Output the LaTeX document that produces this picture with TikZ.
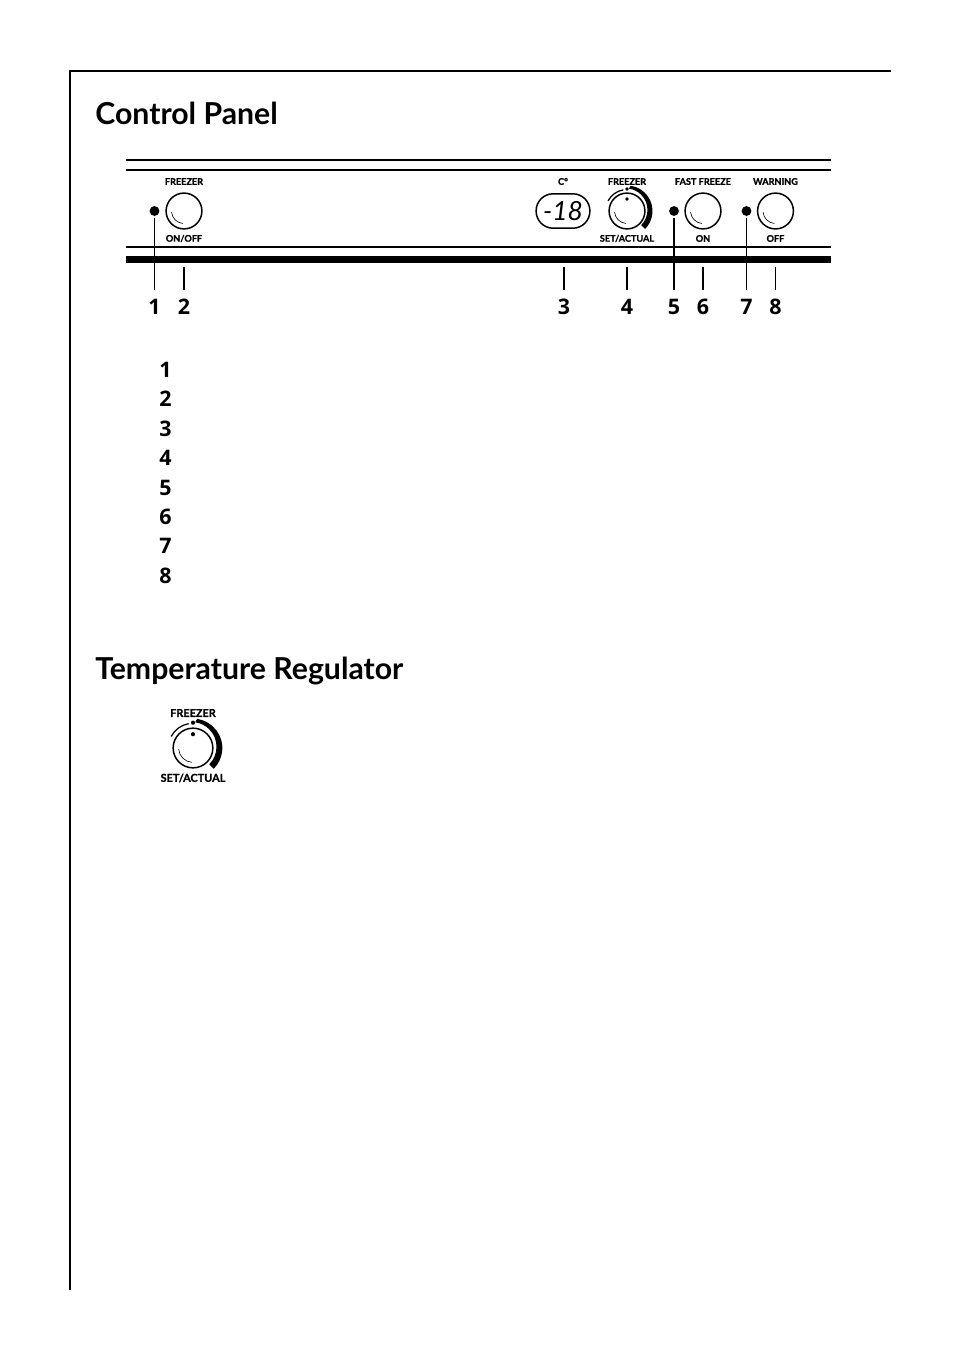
\documentclass[tikz,border=0pt]{standalone}
\usepackage{fontspec}
\setmainfont{Lato}
\newfontfamily\tagfont{Lato}[BoldFeatures={FakeBold=1}]
\newfontfamily\numfont{Open Sans}
\tikzset{
  heading/.style={anchor=base west,inner sep=0pt,font=\fontsize{17.2}{20}\selectfont\bfseries},
  numeral/.style={inner xsep=0pt,inner ysep=5pt,text height=8.6pt,text depth=0pt,font=\fontsize{12.2}{14}\numfont\bfseries},
  listnum/.style={inner sep=0pt,font=\fontsize{12.2}{14}\numfont\bfseries},
  tag/.style={inner sep=0pt,font=\fontsize{5.2}{6}\tagfont\bfseries},
  bigtag/.style={inner sep=0pt,font=\fontsize{6.2}{7}\tagfont\bfseries},
  led/.style={circle,fill=black,inner sep=0pt,minimum size=5.6pt},
  knob/.style={circle,draw,line width=0.85pt,inner sep=0pt,minimum size=20.4pt},
  callout/.style={line width=0.9pt},
  band/.style={line width=0.9pt}
}
% one dial: ring of ticks, thick scale, pointer dot, gloss
\newcommand{\dialmarks}{
  \draw[line width=0.7pt] (-152:21.5) arc[start angle=-152,end angle=-100,radius=21.5];
  \fill (-90:22) circle[radius=1.8];
  \fill (-90:12) circle[radius=1.8];
  \fill (-82:25.5) arc[start angle=-82,end angle=45,radius=25.5]
    -- (45:20) arc[start angle=45,end angle=-82,radius=21.5] -- cycle;
}
\newcommand{\glossarc}{
  \draw[line width=0.35pt] (95:12.5) arc[start angle=95,end angle=175,radius=12.5];
}
\begin{document}
\begin{tikzpicture}[x=0.02cm,y=-0.02cm]
\useasboundingbox (0,0) rectangle (954,1352);

% page frame
\draw[line width=1.1pt] (70,1290) -- (70,71) -- (891,71);

% headings
\node[heading] (title1) at (95,124) {Control Panel};
\node[heading] (title2) at (95,679) {Temperature Regulator};

% panel bands
\draw[band] (126,160) -- (831,160);
\draw[band] (126,170) -- (831,170);
\draw[band] (126,247) -- (831,247);
\fill (126,256) rectangle (831,263);

% on/off
\node[led] (led1) at (154.5,211) {};
\node[knob] (knob2) at (184,211) {};
\begin{scope}[shift={(184,211)}]\glossarc\end{scope}
\node[tag] (tag2a) at (184,181.5) {FREEZER};
\node[tag] (tag2b) at (184,238.5) {ON/OFF};

% display
\node[draw,line width=0.85pt,rounded corners=9.7pt,minimum width=30.6pt,minimum height=19.6pt,inner sep=0pt,
  font=\fontsize{15}{16}\selectfont\itshape] (display3) at (563,211) {-18};
\node[tag] (tag3a) at (563,181.5) {C°};

% temperature dial
\node[knob] (knob4) at (627,211) {};
\begin{scope}[shift={(627,211)}]\glossarc\dialmarks\end{scope}
\node[tag] (tag4a) at (627,181.5) {FREEZER};
\node[tag] (tag4b) at (627,238.5) {SET/ACTUAL};

% fast freeze
\node[led] (led5) at (674,211) {};
\node[knob] (knob6) at (703,211) {};
\begin{scope}[shift={(703,211)}]\glossarc\end{scope}
\node[tag] (tag6a) at (703,181.5) {FAST FREEZE};
\node[tag] (tag6b) at (703,238.5) {ON};

% warning
\node[led] (led7) at (746.5,211) {};
\node[knob] (knob8) at (775.5,211) {};
\begin{scope}[shift={(775.5,211)}]\glossarc\end{scope}
\node[tag] (tag8a) at (775.5,181.5) {WARNING};
\node[tag] (tag8b) at (775.5,238.5) {OFF};

% callout numbers
\node[numeral] (num1) at (154.5,307) {1};
\node[numeral] (num2) at (184,307) {2};
\node[numeral] (num3) at (564,307) {3};
\node[numeral] (num4) at (627,307) {4};
\node[numeral] (num5) at (674,307) {5};
\node[numeral] (num6) at (703,307) {6};
\node[numeral] (num7) at (746.5,307) {7};
\node[numeral] (num8) at (775.5,307) {8};

\coordinate (tick2) at (184,267);
\coordinate (tick3) at (564,267);
\coordinate (tick4) at (627,267);
\coordinate (tick6) at (703,267);
\coordinate (tick8) at (775.5,267);

\draw[callout,shorten <=1.2pt] (led1.south) -- (led1.south |- num1.north);
\draw[callout] (tick2) -- (num2.north);
\draw[callout] (tick3) -- (num3.north);
\draw[callout] (tick4) -- (num4.north);
\draw[callout,shorten <=1.2pt] (led5.south) -- (led5.south |- num5.north);
\draw[callout] (tick6) -- (num6.north);
\draw[callout,shorten <=1.2pt] (led7.south) -- (led7.south |- num7.north);
\draw[line width=0.5pt] (tick8) -- (num8.north);

% list of numbers
\node[listnum] (item1) at (165.5,369.5) {1};
\node[listnum] (item2) at (165.5,398.5) {2};
\node[listnum] (item3) at (165.5,428.5) {3};
\node[listnum] (item4) at (165.5,457.5) {4};
\node[listnum] (item5) at (165.5,487.5) {5};
\node[listnum] (item6) at (165.5,516.5) {6};
\node[listnum] (item7) at (165.5,545.5) {7};
\node[listnum] (item8) at (165.5,575.5) {8};

% regulator
\node[knob,minimum size=22.6pt] (knob9) at (193,748) {};
\begin{scope}[shift={(193,748)},scale=1.15]\glossarc\dialmarks\end{scope}
\node[bigtag] (tag9a) at (193,713) {FREEZER};
\node[bigtag] (tag9b) at (193,778) {SET/ACTUAL};

\end{tikzpicture}
\end{document}
